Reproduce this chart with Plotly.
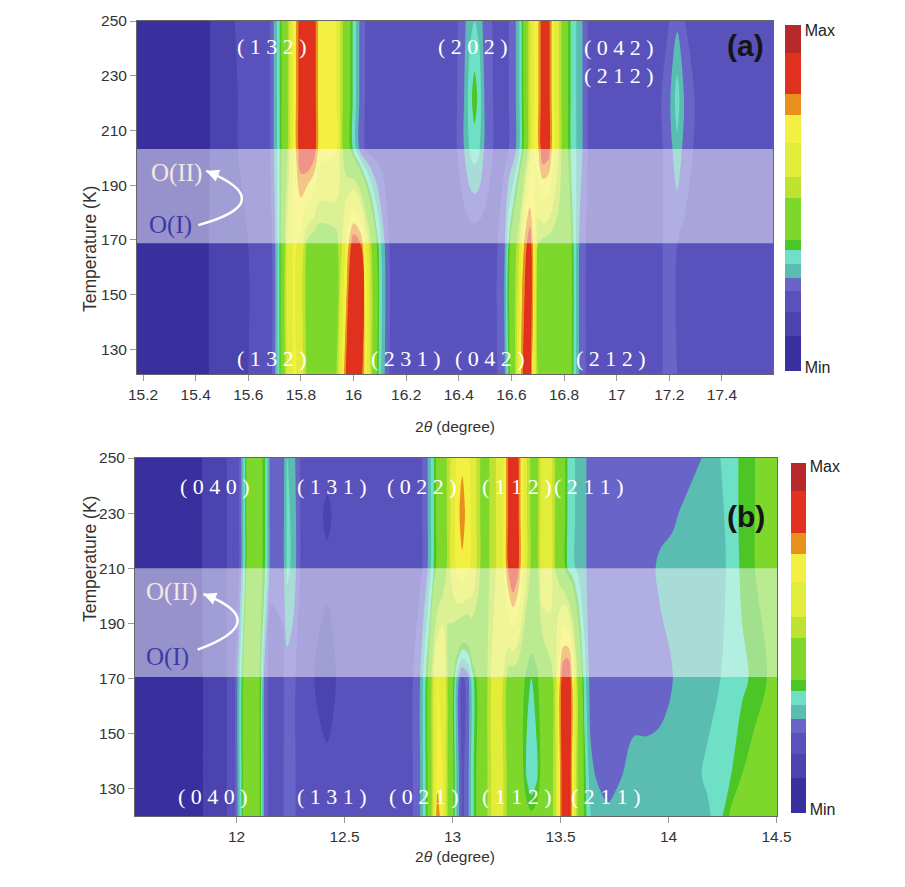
import plotly.graph_objects as go

# ---------------- panel (a): 2theta grid, temperature rows, intensity (0 = min, 1 = max)
theta_a = [15.17, 15.42, 15.48, 15.60, 15.68, 15.70, 15.715, 15.73, 15.75, 15.775,
           15.80, 15.825, 15.85, 15.87, 15.93, 15.955, 15.975, 16.00, 16.025, 16.05,
           16.07, 16.09, 16.11, 16.14, 16.38, 16.42, 16.445, 16.46, 16.475, 16.50,
           16.54, 16.575, 16.59, 16.61, 16.63, 16.65, 16.67, 16.685, 16.70, 16.72,
           16.74, 16.76, 16.78, 16.80, 16.82, 16.84, 16.86, 16.89, 17.00, 17.15,
           17.20, 17.23, 17.26, 17.32, 17.46, 17.52, 17.60]
temp_a = [121, 168, 203, 222, 250]

int_a_121 = [.05, .06, .14, .17, .20, .26, .33, .42, .60, .68,
             .62, .47, .44, .44, .46, .66, .84, .91, .86, .66,
             .50, .37, .29, .22, .20, .20, .20, .20, .20, .21,
             .22, .27, .36, .45, .68, .86, .86, .62, .50, .47,
             .46, .46, .46, .45, .42, .33, .26, .22, .21, .22,
             .24, .23, .22, .21, .17, .18, .21]
int_a_168 = [.05, .06, .14, .17, .20, .26, .33, .42, .60, .68,
             .62, .47, .44, .44, .46, .55, .70, .86, .82, .62,
             .48, .37, .29, .22, .20, .20, .20, .20, .20, .21,
             .22, .27, .36, .45, .56, .76, .86, .70, .50, .47,
             .46, .46, .46, .45, .42, .33, .26, .22, .21, .22,
             .24, .23, .22, .21, .18, .18, .21]
int_a_203 = [.05, .06, .13, .19, .22, .28, .33, .40, .50, .70,
             .86, .90, .84, .70, .68, .52, .42, .34, .26, .22,
             .21, .21, .21, .21, .21, .27, .32, .33, .32, .26,
             .22, .22, .23, .25, .31, .40, .56, .66, .72, .86,
             .84, .68, .56, .44, .36, .32, .29, .23, .21, .21,
             .25, .30, .25, .21, .21, .21, .21]
int_a_222 = [.05, .06, .13, .19, .22, .28, .33, .40, .50, .70,
             .86, .90, .84, .70, .68, .52, .42, .34, .26, .22,
             .21, .21, .21, .21, .21, .27, .34, .37, .34, .26,
             .22, .22, .23, .25, .31, .40, .56, .66, .72, .86,
             .84, .68, .56, .44, .36, .32, .29, .23, .21, .21,
             .26, .33, .26, .21, .21, .21, .21]
int_a_250 = [.05, .06, .13, .20, .22, .28, .33, .40, .50, .70,
             .86, .90, .84, .70, .68, .52, .42, .34, .26, .22,
             .21, .21, .21, .21, .21, .26, .30, .31, .30, .25,
             .22, .22, .23, .25, .31, .40, .56, .66, .72, .86,
             .84, .68, .56, .44, .36, .32, .29, .23, .21, .21,
             .23, .26, .23, .21, .21, .21, .21]

# ---------------- panel (b)
theta_b = [11.52, 11.80, 11.88, 11.98, 12.01, 12.03, 12.05, 12.08, 12.11, 12.13,
           12.16, 12.21, 12.235, 12.26, 12.30, 12.36, 12.42, 12.48, 12.80, 12.85,
           12.87, 12.89, 12.91, 12.93, 12.955, 12.98, 13.00, 13.02, 13.045, 13.07,
           13.09, 13.11, 13.14, 13.17, 13.20, 13.23, 13.26, 13.28, 13.30, 13.32,
           13.345, 13.365, 13.39, 13.42, 13.45, 13.475, 13.495, 13.515, 13.535, 13.555,
           13.58, 13.61, 13.64, 13.68, 13.72, 13.76, 13.84, 13.90, 13.96, 14.02,
           14.10, 14.18, 14.24, 14.29, 14.34, 14.40, 14.51]
temp_b = [120, 135, 170, 210, 230, 250]

int_b_120 = [.07, .05, .14, .18, .29, .38, .46, .47, .37, .25,
             .21, .22, .25, .24, .21, .20, .20, .20, .21, .27,
             .33, .40, .55, .80, .66, .48, .40, .30, .22, .25,
             .33, .38, .45, .52, .66, .58, .46, .45, .44, .42,
             .40, .39, .40, .43, .47, .52, .72, .88, .90, .72,
             .48, .37, .31, .29, .28, .29, .29, .29, .29, .29,
             .29, .30, .34, .39, .41, .42, .42]
int_b_135 = [.07, .05, .14, .18, .29, .38, .46, .47, .37, .25,
             .21, .22, .25, .24, .21, .20, .18, .20, .21, .27,
             .33, .40, .55, .70, .66, .48, .40, .30, .22, .25,
             .33, .38, .45, .52, .66, .58, .46, .45, .44, .40,
             .34, .31, .34, .42, .47, .52, .72, .88, .90, .72,
             .48, .37, .28, .26, .25, .26, .29, .29, .29, .29,
             .29, .32, .33, .35, .38, .40, .41]
int_b_170 = [.07, .05, .14, .18, .29, .38, .46, .47, .37, .25,
             .21, .22, .25, .24, .21, .17, .15, .18, .21, .27,
             .33, .40, .55, .66, .66, .48, .40, .30, .22, .25,
             .33, .38, .45, .52, .66, .58, .46, .45, .44, .41,
             .36, .35, .37, .42, .47, .52, .72, .88, .90, .72,
             .48, .33, .25, .24, .24, .24, .24, .24, .25, .27,
             .29, .29, .31, .33, .34, .36, .40]
int_b_210 = [.07, .06, .14, .18, .22, .30, .40, .42, .40, .36,
             .24, .24, .32, .30, .22, .20, .18, .20, .21, .22,
             .24, .28, .34, .40, .45, .52, .60, .68, .72, .68,
             .64, .56, .46, .50, .56, .62, .82, .90, .84, .70,
             .56, .48, .46, .64, .62, .50, .46, .40, .34, .32,
             .30, .28, .25, .25, .25, .25, .25, .25, .28, .29,
             .29, .29, .30, .32, .36, .38, .40]
int_b_230 = [.07, .06, .14, .18, .22, .30, .40, .42, .40, .36,
             .24, .24, .32, .30, .22, .19, .16, .19, .21, .22,
             .24, .28, .34, .40, .45, .52, .60, .70, .78, .70,
             .64, .56, .46, .50, .56, .62, .82, .90, .84, .70,
             .56, .48, .46, .64, .62, .50, .46, .40, .34, .32,
             .30, .28, .25, .25, .25, .25, .25, .24, .25, .26,
             .29, .29, .30, .33, .36, .38, .40]
int_b_250 = [.07, .06, .14, .18, .22, .30, .40, .42, .40, .36,
             .24, .24, .31, .29, .22, .20, .19, .20, .21, .22,
             .24, .28, .34, .40, .45, .52, .60, .68, .72, .68,
             .64, .56, .46, .50, .56, .62, .82, .90, .84, .70,
             .56, .48, .46, .64, .62, .50, .46, .40, .34, .32,
             .30, .28, .25, .25, .25, .25, .25, .24, .24, .24,
             .25, .28, .31, .33, .36, .38, .40]

# intensity scale: band edges and colours (Min -> Max)
band_edges = [0, 0.10, 0.17, 0.23, 0.27, 0.31, 0.35, 0.38, 0.50, 0.56, 0.66, 0.745, 0.80, 0.92, 1.0]
band_colors = ['#3a2f9e', '#4b43ae', '#5a52bc', '#6864c8', '#5bbcb2', '#6ee0c6', '#4cc626',
               '#7ed82c', '#bde232', '#e2ec3a', '#f4f042', '#e8901e', '#e0321e', '#b62a2a']

# transition region (white band) per panel
band_a = [168.8, 203.2]
band_b = [170.5, 210.0]

# ticks
xticks_a = [15.2, 15.4, 15.6, 15.8, 16.0, 16.2, 16.4, 16.6, 16.8, 17.0, 17.2, 17.4]
xticks_b = [12, 12.5, 13, 13.5, 14, 14.5]
yticks = [130, 150, 170, 190, 210, 230, 250]

# reflection labels: (text, 2theta, T)
labels_a = [('(1 3 2)', 15.69, 240.8), ('(2 0 2)', 16.455, 240.8), ('(0 4 2)', 17.01, 240.5),
            ('(2 1 2)', 17.01, 230.2), ('(1 3 2)', 15.69, 126.7), ('(2 3 1)', 16.20, 126.7),
            ('(0 4 2)', 16.52, 126.7), ('(2 1 2)', 16.98, 126.7)]
labels_b = [('(0 4 0)', 11.90, 239.5), ('(1 3 1)', 12.44, 239.5), ('(0 2 2)', 12.86, 239.5),
            ('(1 1 2)', 13.30, 239.8), ('(2 1 1)', 13.63, 239.8), ('(0 4 0)', 11.89, 127.0),
            ('(1 3 1)', 12.44, 127.0), ('(0 2 1)', 12.87, 127.0), ('(1 1 2)', 13.30, 127.0),
            ('(2 1 1)', 13.71, 127.0)]

colorscale = []
for lo, hi, c in zip(band_edges[:-1], band_edges[1:], band_colors):
    colorscale += [[lo, c], [hi, c]]

W, H = 905, 887
OFF = 8  # the page body adds 8px around the figure


def px_x(px):
    return (px - OFF) / W


def px_y(py):
    return 1 - (py - OFF) / H


def contour(x, y, z, xa, ya, cb):
    return go.Contour(x=x, y=y, z=z, xaxis=xa, yaxis=ya,
                      colorscale=colorscale, zmin=0, zmax=1,
                      autocontour=False,
                      contours=dict(start=0, end=1, size=0.01, coloring='fill', showlines=False),
                      line=dict(width=0, smoothing=1),
                      colorbar=cb, hoverinfo='skip')


cb_font = dict(family='Liberation Sans, Arial', size=16, color='#222')
cb_a = dict(x=px_x(785), xanchor='left', y=px_y(198), yanchor='middle', len=346 / H, lenmode='fraction',
            thickness=16, outlinewidth=0, ticks='', tickvals=[0.01, 0.985], ticktext=['Min', 'Max'],
            tickfont=cb_font, ypad=0, xpad=0)
cb_b = dict(x=px_x(791), xanchor='left', y=px_y(638), yanchor='middle', len=350 / H, lenmode='fraction',
            thickness=15, outlinewidth=0, ticks='', tickvals=[0.01, 0.99], ticktext=['Min', 'Max'],
            tickfont=cb_font, ypad=0, xpad=0)

fig = go.Figure()
fig.add_trace(contour(theta_a, temp_a, [int_a_121, int_a_168, int_a_203, int_a_222, int_a_250],
                      'x', 'y', cb_a))
fig.add_trace(contour(theta_b, temp_b, [int_b_120, int_b_135, int_b_170, int_b_210, int_b_230, int_b_250],
                      'x2', 'y2', cb_b))

axis_font = dict(family='Liberation Sans, Arial', size=15.5, color='#333')
common = dict(ticks='outside', ticklen=6, tickcolor='#999', showgrid=False, zeroline=False,
              showline=True, linecolor='#666', linewidth=1, mirror=True, tickfont=axis_font)

fig.update_layout(
    width=W, height=H,
    margin=dict(l=0, r=0, t=0, b=0, autoexpand=False),
    paper_bgcolor='white', plot_bgcolor='white',
    font=axis_font,
    showlegend=False,
    xaxis=dict(domain=[px_x(137), px_x(773)], range=[15.177, 17.594], anchor='y',
               tickvals=xticks_a, ticktext=[f'{v:g}' for v in xticks_a], **common),
    yaxis=dict(domain=[px_y(374), px_y(21)], range=[121, 250], anchor='x',
               tickvals=yticks, ticktext=[str(v) for v in yticks], **common),
    xaxis2=dict(domain=[px_x(135), px_x(777)], range=[11.53, 14.502], anchor='y2',
                tickvals=xticks_b, ticktext=[f'{v:g}' for v in xticks_b], **common),
    yaxis2=dict(domain=[px_y(816), px_y(458)], range=[120, 250], anchor='x2',
                tickvals=yticks, ticktext=[str(v) for v in yticks], **common),
)

# axis titles
title_font = dict(family='Liberation Sans, Arial', size=15.5, color='#333')
for px, py in ((455, 427), (455, 867)):
    fig.add_annotation(text='2<i>θ</i> (degree)', x=px_x(px), y=px_y(py), xref='paper', yref='paper',
                       showarrow=False, font=title_font)
for px, py in ((78, 184), (78, 624)):
    fig.add_annotation(text='Temperature (K)', x=px_x(px), y=px_y(py), xref='paper', yref='paper',
                       showarrow=False, textangle=-90,
                       font=dict(family='Liberation Sans, Arial', size=17.5, color='#333'))

# translucent white band over the O(I)/O(II) coexistence range
for xr, yr, band in (('x domain', 'y', band_a), ('x2 domain', 'y2', band_b)):
    fig.add_shape(type='rect', xref=xr, yref=yr, x0=0, x1=1, y0=band[0], y1=band[1],
                  fillcolor='rgba(255,255,255,0.48)', line=dict(width=0), layer='above')

label_font = dict(family='Liberation Serif, Times New Roman', size=22, color='white')
for xr, yr, labels in (('x', 'y', labels_a), ('x2', 'y2', labels_b)):
    for text, lx, ly in labels:
        spaced = '( ' + text[1:-1] + ' )'
        fig.add_annotation(text=spaced, x=lx, y=ly, xref=xr, yref=yr, showarrow=False, font=label_font)

# panel letters
fig.add_annotation(text='<b>(a)</b>', x=17.49, y=241, xref='x', yref='y', showarrow=False,
                   font=dict(family='Liberation Sans, Arial', size=30, color='#151515'))
fig.add_annotation(text='<b>(b)</b>', x=14.36, y=228.6, xref='x2', yref='y2', showarrow=False,
                   font=dict(family='Liberation Sans, Arial', size=30, color='#151515'))

# O(I) -> O(II) labels with curved arrow
phase_font_hi = dict(family='Liberation Serif, Times New Roman', size=25, color='#f4e8e2')
phase_font_lo = dict(family='Liberation Serif, Times New Roman', size=25, color='#3a3aa6')
arrows = [  # xref, yref, O(II) pos, O(I) pos, arrow start, control, end
    ('x', 'y', (15.327, 194.4), (15.306, 175.4), (15.41, 175.4), (15.726, 183.9), (15.44, 195.2)),
    ('x2', 'y2', (11.70, 201.4), (11.68, 177.8), (11.82, 180.4), (12.1765, 190.65), (11.847, 200.6)),
]
for xr, yr, p2, p1, s, c, e in arrows:
    fig.add_annotation(text='O(II)', x=p2[0], y=p2[1], xref=xr, yref=yr, showarrow=False, font=phase_font_hi)
    fig.add_annotation(text='O(I)', x=p1[0], y=p1[1], xref=xr, yref=yr, showarrow=False, font=phase_font_lo)
    fig.add_shape(type='path', xref=xr, yref=yr,
                  path=f'M {s[0]},{s[1]} Q {c[0]},{c[1]} {e[0]},{e[1]}',
                  line=dict(color='white', width=2.5), layer='above')
    fig.add_annotation(text='', x=e[0], y=e[1], xref=xr, yref=yr, ax=9, ay=3.5,
                       showarrow=True, arrowhead=2, arrowsize=1.1, arrowwidth=2.3, arrowcolor='white')

fig.write_html('out.html')
